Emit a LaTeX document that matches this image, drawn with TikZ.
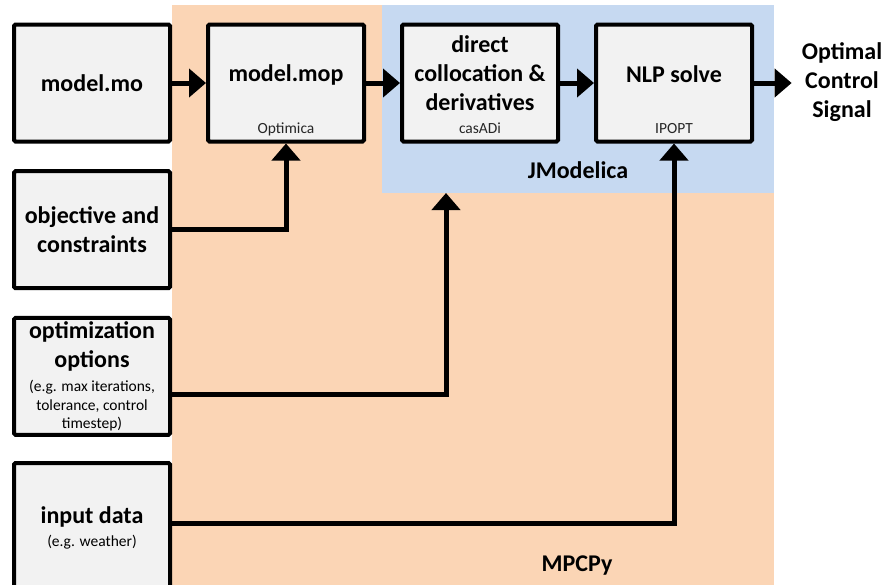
\documentclass[tikz,border=0pt]{standalone}
\usepackage{fontspec}
\setmainfont{Carlito}
\usetikzlibrary{arrows.meta}

\definecolor{mpcorange}{HTML}{FBD5B5}
\definecolor{jmblue}{HTML}{C6D9F1}
\definecolor{boxgray}{HTML}{F2F2F2}

\newcommand{\bigfont}{\fontsize{24}{29}\selectfont\bfseries}
\newcommand{\smfont}{\fontsize{15.5}{19.5}\selectfont\mdseries}

\tikzset{
	blk/.style={draw, line width=4pt, fill=boxgray, rounded corners=1.5pt,
		minimum width=156pt, minimum height=117pt, align=center, font=\bigfont},
	title/.style={font=\bigfont, align=center, inner sep=0pt},
	sub/.style={font=\smfont, text=black!85, inner sep=0pt},
	region/.style={inner sep=0pt, outer sep=0pt},
	arr/.style={line width=5pt, -{Triangle[length=17pt,width=28pt]}},
}

\begin{document}
\begin{tikzpicture}[x=1pt, y=-1pt]
	\def\colsep{194}
	\def\rowsep{146.7}
	\useasboundingbox (0,0) rectangle (885,584);

	% MPCPy and JModelica areas
	\node[region, fill=mpcorange, minimum width=602pt, minimum height=586pt] (mpcpy) at (473,298) {};
	\node[region, fill=jmblue, minimum width=392pt, minimum height=188pt] (jm) at (578,99) {};
	\node[title] (jm label) at ([yshift=23pt]jm.south) {JModelica};
	\node[title, anchor=base] (mpcpy label) at (577,571) {MPCPy};

	% top row
	\node[blk] (mo) at (92,83) {model.mo};

	\node[blk] (mop) at (92+\colsep,83) {};
	\node[title] (mop title) at ([yshift=8pt]mop.center) {model.mop};
	\node[sub, anchor=base] (mop tool) at ([yshift=10pt]mop.south) {Optimica};

	\node[blk] (dc) at (92+2*\colsep,83) {};
	\node[title] (dc title) at ([yshift=10pt]dc.center) {direct\\collocation \&\\derivatives};
	\node[sub, anchor=base] (dc tool) at ([yshift=10pt]dc.south) {casADi};

	\node[blk] (nlp) at (92+3*\colsep,83) {};
	\node[title] (nlp title) at ([yshift=9pt]nlp.center) {NLP solve};
	\node[sub, anchor=base] (nlp tool) at ([yshift=10pt]nlp.south) {IPOPT};

	\node[title] (signal) at (842,82) {Optimal\\Control\\Signal};

	% left column
	\node[blk] (obj) at (92,83+\rowsep) {objective and\\constraints};
	\node[blk] (opt) at (92,83+2*\rowsep) {optimization\\options\\[-5pt]{\smfont (e.g. max iterations,}\\[-10.5pt]{\smfont tolerance, control}\\[-10.5pt]{\smfont timestep)}};
	\node[blk, minimum height=130pt] (inp) at (92,528) {input data\\[-6pt]{\smfont (e.g. weather)}};

	\draw[arr] (mo) -- (mop);
	\draw[arr] (mop) -- (dc);
	\draw[arr] (dc) -- (nlp);
	\draw[arr, shorten >=10pt] (nlp.east) -- (nlp.east -| signal.west);

	\draw[arr] (obj.east) -| (mop.south);
	\draw[arr] ([yshift=-18pt]opt.east) -| ([xshift=-132pt]jm.south);
	\draw[arr] ([yshift=5pt]inp.east) -| (nlp.south);
\end{tikzpicture}
\end{document}
